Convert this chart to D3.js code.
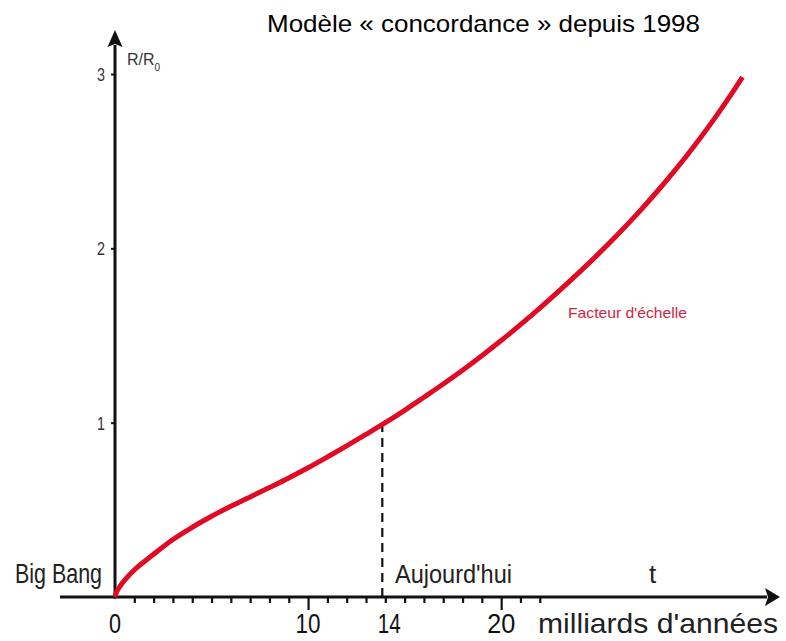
<!DOCTYPE html>
<html>
<head>
<meta charset="utf-8">
<script src="https://cdn.jsdelivr.net/npm/d3@7"></script>
<style>
  html, body { margin: 0; padding: 0; background: #fff; }
  svg { display: block; }
  text { font-family: "Liberation Sans", Arial, sans-serif; }
</style>
</head>
<body>
<svg id="chart" width="786" height="641"></svg>
<script>
// ---- Data ----
const times = [0, 0.1, 0.25, 0.5, 1, 2, 3, 4, 5, 6, 7, 8, 9, 10, 11, 12, 13, 14, 15, 16, 17, 18, 19, 20, 21, 22, 23, 24, 25, 26, 27, 28, 29, 30, 31, 32, 32.5];
const scaleFactor = [0, 0.033, 0.06, 0.097, 0.155, 0.245, 0.33, 0.40, 0.463, 0.52, 0.574, 0.628, 0.683, 0.741, 0.803, 0.867, 0.933, 1.0, 1.071, 1.146, 1.222, 1.301, 1.384, 1.471, 1.562, 1.657, 1.756, 1.858, 1.964, 2.075, 2.192, 2.316, 2.447, 2.587, 2.737, 2.898, 2.982];
const xMinorTicks = [1, 2, 3, 4, 5, 6, 7, 8, 9, 11, 12, 13, 14, 15, 16, 17, 18, 19, 21, 22];
const xMajorTicks = [10, 20];
const xTickLabelValues = [0, 10, 14, 20];
const xTickLabels = ["0", "10", "14", "20"];
const yTickValues = [1, 2, 3];
const yTickLabels = ["1", "2", "3"];
const today = 14;
const title = "Modèle « concordance » depuis 1998";
const seriesLabel = "Facteur d'échelle";

// ---- Scales ----
const x = d3.scaleLinear().domain([0, 32.5]).range([115, 742.5]);
const y = d3.scaleLinear().domain([0, 3]).range([597, 74]);

const svg = d3.select("#chart");
const ink = "#111";

// ---- X axis line with arrow ----
const xStart = x.invert(60), xEnd = x.invert(767);
svg.append("line")
  .attr("x1", x(xStart)).attr("x2", x(xEnd))
  .attr("y1", y(0)).attr("y2", y(0))
  .attr("stroke", ink).attr("stroke-width", 3);
svg.append("path")
  .attr("d", `M${x(xEnd) + 13},${y(0)} L${x(xEnd) - 2},${y(0) - 9} L${x(xEnd) + 1},${y(0)} L${x(xEnd) - 2},${y(0) + 9} Z`)
  .attr("fill", ink);

// minor & major ticks via d3 axes
const gMinor = svg.append("g").attr("transform", `translate(0,${y(0)})`)
  .call(d3.axisBottom(x).tickValues(xMinorTicks).tickSize(6).tickFormat(""));
const gMajor = svg.append("g").attr("transform", `translate(0,${y(0)})`)
  .call(d3.axisBottom(x).tickValues(xMajorTicks).tickSize(13).tickFormat(""));
[gMinor, gMajor].forEach(g => {
  g.select(".domain").remove();
  g.selectAll(".tick line").attr("stroke", ink).attr("stroke-width", 2.2);
});

// x tick labels
const labelWidths = {"0": 12, "10": 25, "14": 23, "20": 28};
svg.append("g").selectAll("text")
  .data(xTickLabelValues)
  .join("text")
  .attr("x", (d, i) => x(d) + (d === 14 ? 4 : 0))
  .attr("y", 633)
  .attr("text-anchor", "middle")
  .attr("font-size", 28)
  .attr("fill", ink)
  .attr("textLength", (d, i) => labelWidths[xTickLabels[i]])
  .attr("lengthAdjust", "spacingAndGlyphs")
  .text((d, i) => xTickLabels[i]);

// ---- Y axis line with arrow ----
const yTop = y.invert(45);
svg.append("line")
  .attr("x1", x(0)).attr("x2", x(0))
  .attr("y1", y(0) + 1.5).attr("y2", y(yTop))
  .attr("stroke", ink).attr("stroke-width", 3);
svg.append("path")
  .attr("d", `M${x(0)},${y(yTop) - 15} L${x(0) - 7.5},${y(yTop) + 2} L${x(0)},${y(yTop) - 1} L${x(0) + 7.5},${y(yTop) + 2} Z`)
  .attr("fill", ink);

const gY = svg.append("g").attr("transform", `translate(${x(0)},0)`)
  .call(d3.axisLeft(y).tickValues(yTickValues).tickSize(4).tickFormat(""));
gY.select(".domain").remove();
gY.selectAll(".tick line").attr("stroke", ink).attr("stroke-width", 2);

svg.append("g").selectAll("text")
  .data(yTickValues)
  .join("text")
  .attr("x", 105)
  .attr("y", d => y(d) + 7)
  .attr("text-anchor", "end")
  .attr("font-size", 19)
  .attr("fill", "#333")
  .attr("textLength", 8)
  .attr("lengthAdjust", "spacingAndGlyphs")
  .text((d, i) => yTickLabels[i]);

// R/R0 label
const rl = svg.append("text")
  .attr("x", 127).attr("y", 65)
  .attr("font-size", 16).attr("fill", "#333");
rl.append("tspan").text("R/R");
rl.append("tspan").attr("font-size", 10).attr("dy", 6).text("0");

// ---- Dashed "today" line ----
svg.append("line")
  .attr("x1", x(today) - 3).attr("x2", x(today) - 3)
  .attr("y1", y(0)).attr("y2", y(1) + 2)
  .attr("stroke", ink).attr("stroke-width", 2.2)
  .attr("stroke-dasharray", "9,6");

// ---- Curve ----
const line = d3.line()
  .x((d, i) => x(times[i]))
  .y(d => y(d))
  .curve(d3.curveCatmullRom.alpha(0.5));
svg.append("path")
  .datum(scaleFactor)
  .attr("d", line)
  .attr("fill", "none")
  .attr("stroke", "#e10a24")
  .attr("stroke-width", 5)
  .attr("stroke-linecap", "butt");

// ---- Text labels ----
svg.append("text")
  .attr("x", 267).attr("y", 32)
  .attr("font-family", "'Open Sans', sans-serif")
  .attr("font-size", 24).attr("fill", "#000")
  .attr("textLength", 433).attr("lengthAdjust", "spacingAndGlyphs")
  .text(title);

svg.append("text")
  .attr("x", 568).attr("y", 318)
  .attr("font-size", 15).attr("fill", "#d5243f")
  .attr("textLength", 119).attr("lengthAdjust", "spacingAndGlyphs")
  .text(seriesLabel);

svg.append("text")
  .attr("x", 15).attr("y", 583)
  .attr("font-size", 28).attr("fill", "#222")
  .attr("textLength", 87).attr("lengthAdjust", "spacingAndGlyphs")
  .text("Big Bang");

svg.append("text")
  .attr("x", 395).attr("y", 583)
  .attr("font-size", 25).attr("fill", "#222")
  .attr("textLength", 117).attr("lengthAdjust", "spacingAndGlyphs")
  .text("Aujourd'hui");

svg.append("text")
  .attr("x", 649).attr("y", 583)
  .attr("font-size", 26).attr("fill", "#222")
  .text("t");

svg.append("text")
  .attr("x", 538).attr("y", 633)
  .attr("font-size", 28).attr("fill", "#222")
  .attr("textLength", 240).attr("lengthAdjust", "spacingAndGlyphs")
  .text("milliards d'années");
</script>
</body>
</html>
